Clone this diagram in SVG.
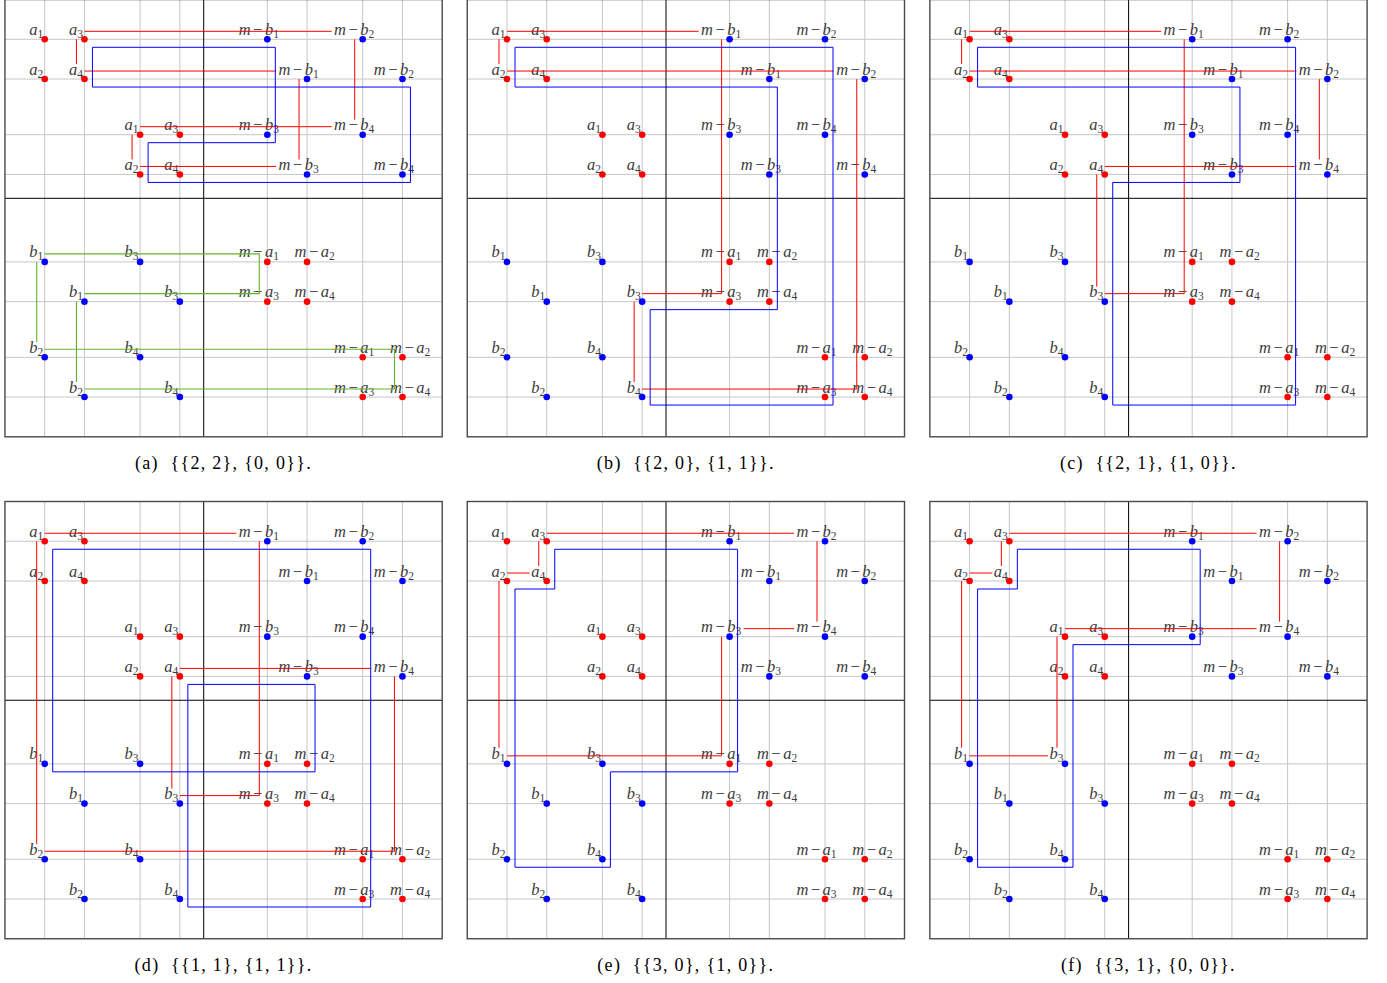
<svg xmlns="http://www.w3.org/2000/svg" xmlns:xlink="http://www.w3.org/1999/xlink" width="1387" height="983" viewBox="0 0 1387 983">
<style>
.grid{stroke:#c6c6c6;stroke-width:1;fill:none}
.axis{stroke:#000;stroke-width:1;fill:none}
.frame{stroke:#4a4a4a;stroke-width:1.4;fill:none}
.lbl{font-family:"Liberation Serif",serif;font-style:italic;font-size:16.5px;fill:#3c3c3c;text-anchor:middle}
.sub{font-size:11.5px;font-style:normal}
.op{font-style:normal}
.dr{fill:#ff0000}
.db{fill:#0000ff}
.cr{stroke:#ff0000;stroke-width:1;fill:none;stroke-linejoin:round}
.cb{stroke:#0000ff;stroke-width:1;fill:none;stroke-linejoin:round}
.cg{stroke:#66b32a;stroke-width:1.1;fill:none;stroke-linejoin:round}
.cap{font-family:"Liberation Serif",serif;font-size:18px;fill:#000;text-anchor:middle;letter-spacing:1.3px}
</style>
<defs>
<g id="base">
<g id="gridlines" class="grid">
<path d="M39.75,0V437.25M79.5,0V437.25M135.15,0V437.25M174.9,0V437.25M262.35,0V437.25M302.1,0V437.25M357.75,0V437.25M397.5,0V437.25"/>
<path d="M0,39.75H437.25M0,79.5H437.25M0,135.15H437.25M0,174.9H437.25M0,262.35H437.25M0,302.1H437.25M0,357.75H437.25M0,397.5H437.25"/>
</g>
<path class="axis" d="M198.75,0V437.25M0,198.75H437.25"/>
<rect class="frame" x="0" y="0" width="437.25" height="437.25"/>
<g id="nodes">
<g id="n-a1-o"><circle class="dr" cx="39.75" cy="39.75" r="3.3"/><text class="lbl" x="31.25" y="35.25">a<tspan class="sub" dy="3">1</tspan></text></g>
<g id="n-a3-o"><circle class="dr" cx="79.5" cy="39.75" r="3.3"/><text class="lbl" x="71" y="35.25">a<tspan class="sub" dy="3">3</tspan></text></g>
<g id="n-a2-o"><circle class="dr" cx="39.75" cy="79.5" r="3.3"/><text class="lbl" x="31.25" y="75">a<tspan class="sub" dy="3">2</tspan></text></g>
<g id="n-a4-o"><circle class="dr" cx="79.5" cy="79.5" r="3.3"/><text class="lbl" x="71" y="75">a<tspan class="sub" dy="3">4</tspan></text></g>
<g id="n-a1-i"><circle class="dr" cx="135.15" cy="135.15" r="3.3"/><text class="lbl" x="126.65" y="130.65">a<tspan class="sub" dy="3">1</tspan></text></g>
<g id="n-a3-i"><circle class="dr" cx="174.9" cy="135.15" r="3.3"/><text class="lbl" x="166.4" y="130.65">a<tspan class="sub" dy="3">3</tspan></text></g>
<g id="n-a2-i"><circle class="dr" cx="135.15" cy="174.9" r="3.3"/><text class="lbl" x="126.65" y="170.4">a<tspan class="sub" dy="3">2</tspan></text></g>
<g id="n-a4-i"><circle class="dr" cx="174.9" cy="174.9" r="3.3"/><text class="lbl" x="166.4" y="170.4">a<tspan class="sub" dy="3">4</tspan></text></g>
<g id="n-mb1-o"><circle class="db" cx="262.35" cy="39.75" r="3.3"/><text class="lbl" x="253.85" y="35.25">m<tspan class="op" dx="2.5">−</tspan><tspan dx="2.5">b</tspan><tspan class="sub" dy="3">1</tspan></text></g>
<g id="n-mb2-o"><circle class="db" cx="357.75" cy="39.75" r="3.3"/><text class="lbl" x="349.25" y="35.25">m<tspan class="op" dx="2.5">−</tspan><tspan dx="2.5">b</tspan><tspan class="sub" dy="3">2</tspan></text></g>
<g id="n-mb1-i"><circle class="db" cx="302.1" cy="79.5" r="3.3"/><text class="lbl" x="293.6" y="75">m<tspan class="op" dx="2.5">−</tspan><tspan dx="2.5">b</tspan><tspan class="sub" dy="3">1</tspan></text></g>
<g id="n-mb2-i"><circle class="db" cx="397.5" cy="79.5" r="3.3"/><text class="lbl" x="389" y="75">m<tspan class="op" dx="2.5">−</tspan><tspan dx="2.5">b</tspan><tspan class="sub" dy="3">2</tspan></text></g>
<g id="n-mb3-o"><circle class="db" cx="262.35" cy="135.15" r="3.3"/><text class="lbl" x="253.85" y="130.65">m<tspan class="op" dx="2.5">−</tspan><tspan dx="2.5">b</tspan><tspan class="sub" dy="3">3</tspan></text></g>
<g id="n-mb4-o"><circle class="db" cx="357.75" cy="135.15" r="3.3"/><text class="lbl" x="349.25" y="130.65">m<tspan class="op" dx="2.5">−</tspan><tspan dx="2.5">b</tspan><tspan class="sub" dy="3">4</tspan></text></g>
<g id="n-mb3-i"><circle class="db" cx="302.1" cy="174.9" r="3.3"/><text class="lbl" x="293.6" y="170.4">m<tspan class="op" dx="2.5">−</tspan><tspan dx="2.5">b</tspan><tspan class="sub" dy="3">3</tspan></text></g>
<g id="n-mb4-i"><circle class="db" cx="397.5" cy="174.9" r="3.3"/><text class="lbl" x="389" y="170.4">m<tspan class="op" dx="2.5">−</tspan><tspan dx="2.5">b</tspan><tspan class="sub" dy="3">4</tspan></text></g>
<g id="n-b1-o"><circle class="db" cx="39.75" cy="262.35" r="3.3"/><text class="lbl" x="31.25" y="257.85">b<tspan class="sub" dy="3">1</tspan></text></g>
<g id="n-b3-o"><circle class="db" cx="135.15" cy="262.35" r="3.3"/><text class="lbl" x="126.65" y="257.85">b<tspan class="sub" dy="3">3</tspan></text></g>
<g id="n-b1-i"><circle class="db" cx="79.5" cy="302.1" r="3.3"/><text class="lbl" x="71" y="297.6">b<tspan class="sub" dy="3">1</tspan></text></g>
<g id="n-b3-i"><circle class="db" cx="174.9" cy="302.1" r="3.3"/><text class="lbl" x="166.4" y="297.6">b<tspan class="sub" dy="3">3</tspan></text></g>
<g id="n-b2-o"><circle class="db" cx="39.75" cy="357.75" r="3.3"/><text class="lbl" x="31.25" y="353.25">b<tspan class="sub" dy="3">2</tspan></text></g>
<g id="n-b4-o"><circle class="db" cx="135.15" cy="357.75" r="3.3"/><text class="lbl" x="126.65" y="353.25">b<tspan class="sub" dy="3">4</tspan></text></g>
<g id="n-b2-i"><circle class="db" cx="79.5" cy="397.5" r="3.3"/><text class="lbl" x="71" y="393">b<tspan class="sub" dy="3">2</tspan></text></g>
<g id="n-b4-i"><circle class="db" cx="174.9" cy="397.5" r="3.3"/><text class="lbl" x="166.4" y="393">b<tspan class="sub" dy="3">4</tspan></text></g>
<g id="n-ma1-i"><circle class="dr" cx="262.35" cy="262.35" r="3.3"/><text class="lbl" x="253.85" y="257.85">m<tspan class="op" dx="2.5">−</tspan><tspan dx="2.5">a</tspan><tspan class="sub" dy="3">1</tspan></text></g>
<g id="n-ma2-i"><circle class="dr" cx="302.1" cy="262.35" r="3.3"/><text class="lbl" x="309.8" y="257.85">m<tspan class="op" dx="2.5">−</tspan><tspan dx="2.5">a</tspan><tspan class="sub" dy="3">2</tspan></text></g>
<g id="n-ma3-i"><circle class="dr" cx="262.35" cy="302.1" r="3.3"/><text class="lbl" x="253.85" y="297.6">m<tspan class="op" dx="2.5">−</tspan><tspan dx="2.5">a</tspan><tspan class="sub" dy="3">3</tspan></text></g>
<g id="n-ma4-i"><circle class="dr" cx="302.1" cy="302.1" r="3.3"/><text class="lbl" x="309.8" y="297.6">m<tspan class="op" dx="2.5">−</tspan><tspan dx="2.5">a</tspan><tspan class="sub" dy="3">4</tspan></text></g>
<g id="n-ma1-o"><circle class="dr" cx="357.75" cy="357.75" r="3.3"/><text class="lbl" x="349.25" y="353.25">m<tspan class="op" dx="2.5">−</tspan><tspan dx="2.5">a</tspan><tspan class="sub" dy="3">1</tspan></text></g>
<g id="n-ma2-o"><circle class="dr" cx="397.5" cy="357.75" r="3.3"/><text class="lbl" x="405.2" y="353.25">m<tspan class="op" dx="2.5">−</tspan><tspan dx="2.5">a</tspan><tspan class="sub" dy="3">2</tspan></text></g>
<g id="n-ma3-o"><circle class="dr" cx="357.75" cy="397.5" r="3.3"/><text class="lbl" x="349.25" y="393">m<tspan class="op" dx="2.5">−</tspan><tspan dx="2.5">a</tspan><tspan class="sub" dy="3">3</tspan></text></g>
<g id="n-ma4-o"><circle class="dr" cx="397.5" cy="397.5" r="3.3"/><text class="lbl" x="405.2" y="393">m<tspan class="op" dx="2.5">−</tspan><tspan dx="2.5">a</tspan><tspan class="sub" dy="3">4</tspan></text></g>
</g>
</g>
</defs>

<g id="panel-a" transform="translate(4.95,-0.45)">
<use xlink:href="#base" href="#base"/>
<g id="connectors-a">
<path class="cr" d="M79.5,31.75H326.75M71.5,39.75V64.5M79.5,71.5H271.1M349.75,39.75V120.15M294.1,79.5V159.9M135.15,127.15H326.75M127.15,135.15V159.9M135.15,166.9H271.1"/>
<path class="cb" d="M87.5,47.75H270.35V143.15H143.15V182.9H405.5V87.5H87.5Z"/>
<path class="cg" d="M39.75,254.35H254.35V294.1H79.5M31.75,262.35V342.75M71.5,302.1V382.5M39.75,349.75H389.5V389.5H79.5"/>
</g>
</g>

<g id="panel-b" transform="translate(467.25,-0.45)">
<use xlink:href="#base" href="#base"/>
<g id="connectors-b">
<path class="cr" d="M31.75,39.75V64.5M39.75,31.75H231.35M254.35,39.75V294.1H174.9M39.75,71.5H366.5M389.5,79.5V389.5H174.9M166.9,302.1V382.5"/>
<path class="cb" d="M47.75,47.75H365.75V405.5H182.9V310.1H310.1V87.5H47.75Z"/>
</g>
</g>

<g id="panel-c" transform="translate(929.85,-0.45)">
<use xlink:href="#base" href="#base"/>
<g id="connectors-c">
<path class="cr" d="M39.75,31.75H231.35M31.75,39.75V64.5M39.75,71.5H366.5M389.5,79.5V159.9M174.9,166.9H366.5M166.9,174.9V287.1M254.35,39.75V294.1H174.9"/>
<path class="cb" d="M47.75,47.75H365.75V405.5H182.9V182.9H310.1V87.5H47.75Z"/>
</g>
</g>

<g id="panel-d" transform="translate(4.95,501.5)">
<use xlink:href="#base" href="#base"/>
<g id="connectors-d">
<path class="cr" d="M39.75,31.75H231.35M31.75,39.75V342.75M254.35,39.75V294.1H174.9M174.9,166.9H366.5M166.9,174.9V287.1M389.5,174.9V349.75H39.75"/>
<path class="cb" d="M47.75,47.75H365.75V405.5H182.9V182.9H310.1V270.35H47.75Z"/>
</g>
</g>

<g id="panel-e" transform="translate(467.25,501.5)">
<use xlink:href="#base" href="#base"/>
<g id="connectors-e">
<path class="cr" d="M79.5,31.75H326.75M71.5,39.75V64.5M39.75,71.5H62.5M31.75,79.5V246.35M349.75,39.75V120.15M276.35,127.15H326.75M254.35,135.15V254.35H39.75"/>
<path class="cb" d="M87.5,47.75H270.35V270.35H143.15V365.75H47.75V87.5H87.5Z"/>
</g>
</g>

<g id="panel-f" transform="translate(929.85,501.5)">
<use xlink:href="#base" href="#base"/>
<g id="connectors-f">
<path class="cr" d="M79.5,31.75H326.75M71.5,39.75V64.5M39.75,71.5H62.5M31.75,79.5V246.35M349.75,39.75V120.15M135.15,127.15H326.75M127.15,135.15V246.35M39.75,254.35H118.15"/>
<path class="cb" d="M87.5,47.75H270.35V143.15H143.15V365.75H47.75V87.5H87.5Z"/>
</g>
</g>

<g id="captions">
<text class="cap" x="223.5" y="469" xml:space="preserve">(a)  {{2, 2}, {0, 0}}.</text>
<text class="cap" x="685.8" y="469" xml:space="preserve">(b)  {{2, 0}, {1, 1}}.</text>
<text class="cap" x="1148.4" y="469" xml:space="preserve">(c)  {{2, 1}, {1, 0}}.</text>
<text class="cap" x="223.5" y="971" xml:space="preserve">(d)  {{1, 1}, {1, 1}}.</text>
<text class="cap" x="685.8" y="971" xml:space="preserve">(e)  {{3, 0}, {1, 0}}.</text>
<text class="cap" x="1148.4" y="971" xml:space="preserve">(f)  {{3, 1}, {0, 0}}.</text>
</g>
</svg>
